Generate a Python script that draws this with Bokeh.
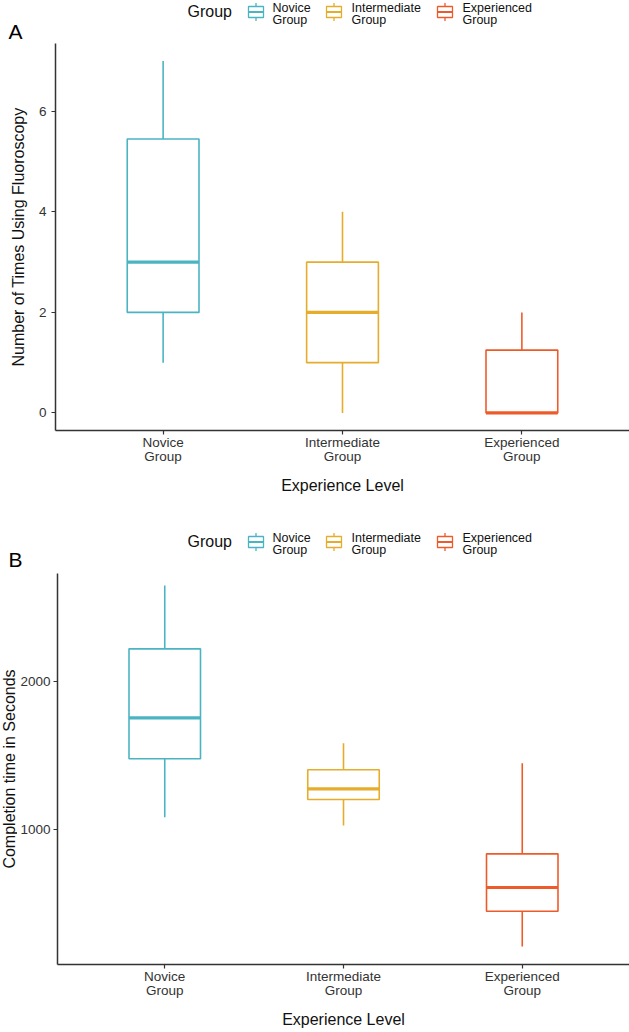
import math
from bokeh.plotting import figure
from bokeh.layouts import column, row
from bokeh.models import Range1d, FixedTicker, ColumnDataSource
from bokeh.core.properties import value
from bokeh.embed import file_html
from bokeh.resources import INLINE

# ---------------- data ----------------
categories = ["Novice\nGroup", "Intermediate\nGroup", "Experienced\nGroup"]
legend_line1 = ["Novice", "Intermediate", "Experienced"]
legend_line2 = ["Group", "Group", "Group"]
colors = ["#4BB4C2", "#E6AC2C", "#EE5B2B"]
positions = [1, 2, 3]

# Panel A: Number of Times Using Fluoroscopy
a_min = [1, 0, 0]
a_q1 = [2, 1, 0]
a_med = [3, 2, 0]
a_q3 = [5.45, 3, 1.25]
a_max = [7, 4, 2]
a_ticks = [0, 2, 4, 6]

# Panel B: Completion time in Seconds
b_min = [1085, 1029, 213]
b_q1 = [1479, 1204, 451]
b_med = [1755, 1276, 611]
b_q3 = [2220, 1405, 838]
b_max = [2647, 1584, 1449]
b_ticks = [1000, 2000]

FONT = "Liberation Sans"
BOX_W = 0.4
AXIS_COL = "#333333"
W = 629


def blank_fig(width, height):
    f = figure(width=width, height=height, x_range=Range1d(0, width),
               y_range=Range1d(height, 0), output_backend="svg",
               toolbar_location=None, min_border=0,
               x_axis_location=None, y_axis_location=None,
               frame_align=False)
    f.grid.visible = False
    f.outline_line_color = None
    f.background_fill_color = "white"
    f.border_fill_color = "white"
    return f


def make_panel(mins, q1s, meds, q3s, maxs, yr, yticks, ylabel, width, height,
               left, bottom, ylab_standoff, ylab_lbl_standoff=5):
    p = figure(width=width, height=height, x_range=Range1d(0.4, 3.6),
               y_range=Range1d(*yr), output_backend="svg",
               toolbar_location=None, min_border_left=left,
               min_border_right=0, min_border_top=0,
               min_border_bottom=bottom, frame_align=False)
    p.xgrid.visible = False
    p.ygrid.visible = False
    p.outline_line_color = None
    p.background_fill_color = "white"
    p.border_fill_color = "white"

    src = ColumnDataSource(dict(
        x=positions, x0=[x - BOX_W / 2 for x in positions],
        x1=[x + BOX_W / 2 for x in positions],
        lo=mins, q1=q1s, med=meds, q3=q3s, hi=maxs, color=colors))

    p.segment(x0="x", y0="q3", x1="x", y1="hi", source=src,
              line_color="color", line_width=1.6)
    p.segment(x0="x", y0="q1", x1="x", y1="lo", source=src,
              line_color="color", line_width=1.6)
    p.vbar(x="x", width=BOX_W, bottom="q1", top="q3", source=src,
           fill_color="white", line_color="color", line_width=1.6)
    p.segment(x0="x0", y0="med", x1="x1", y1="med", source=src,
              line_color="color", line_width=3.2)

    xa = p.xaxis[0]
    ya = p.yaxis[0]
    xa.ticker = FixedTicker(ticks=positions)
    xa.major_label_overrides = {pos: lab for pos, lab in zip(positions, categories)}
    ya.ticker = FixedTicker(ticks=yticks)
    for ax in (xa, ya):
        ax.axis_line_color = AXIS_COL
        ax.axis_line_width = 1.5
        ax.major_tick_line_color = AXIS_COL
        ax.major_tick_line_width = 1.2
        ax.major_tick_out = 4
        ax.major_tick_in = 0
        ax.minor_tick_line_color = None
        ax.major_label_text_font = FONT
        ax.major_label_text_font_size = "13.5px"
        ax.major_label_text_color = "#333333"
        ax.major_label_text_line_height = 0.95
        ax.axis_label_text_font = FONT
        ax.axis_label_text_font_size = "16px"
        ax.axis_label_text_font_style = "normal"
        ax.axis_label_text_color = "#111111"
    xa.axis_label = "Experience Level"
    xa.major_label_standoff = 0
    xa.axis_label_standoff = 10
    ya.major_label_standoff = ylab_lbl_standoff
    if ylabel:
        ya.axis_label = ylabel
        ya.axis_label_standoff = ylab_standoff
    return p


def make_legend(height, title_y, line1_y, line2_y, key_y, tag, tag_y):
    L = blank_fig(W, height)
    key_x = [255.5, 333.5, 444.5]
    lab_x = [272, 351, 462]
    n = len(colors)
    L.text(x=[187], y=[title_y], text=["Group"], text_font=value(FONT),
           text_font_size="16px", text_baseline="middle", text_align="left",
           text_color="#111111")
    L.segment(x0=key_x, y0=[key_y - 9] * n, x1=key_x, y1=[key_y + 9] * n,
              line_color=colors, line_width=1.3)
    L.rect(x=key_x, y=[key_y] * n, width=15, height=11, fill_color="white",
           line_color=colors, line_width=1.3)
    L.segment(x0=[k - 7.5 for k in key_x], y0=[key_y] * n,
              x1=[k + 7.5 for k in key_x], y1=[key_y] * n,
              line_color=colors, line_width=2)
    L.text(x=lab_x, y=[line1_y] * n, text=legend_line1, text_font=value(FONT),
           text_font_size="12.5px", text_baseline="middle", text_align="left",
           text_color="#111111")
    L.text(x=lab_x, y=[line2_y] * n, text=legend_line2, text_font=value(FONT),
           text_font_size="12.5px", text_baseline="middle", text_align="left",
           text_color="#111111")
    L.text(x=[8], y=[tag_y], text=[tag], text_font=value(FONT),
           text_font_size="21px", text_baseline="middle",
           text_align="left", text_color="#000000")
    return L


legA = make_legend(43, 10.5, 7.7, 19.0, 11.5, "A", 30.5)
figA = make_panel(a_min, a_q1, a_med, a_q3, a_max, (-0.35, 7.35), a_ticks,
                  "Number of Times Using Fluoroscopy", W, 455, 55, 68, 9)
legB = make_legend(75, 42.5, 39.7, 51.0, 43.5, "B", 60.5)

YT_W = 17
B_H = 459
figB = make_panel(b_min, b_q1, b_med, b_q3, b_max, (92, 2728), b_ticks,
                  None, W - YT_W, B_H, 56 - YT_W, 68, 0, ylab_lbl_standoff=3)
ytB = blank_fig(YT_W, B_H)
ytB.text(x=[9], y=[(B_H - 68) / 2], text=["Completion time in Seconds"],
         angle=math.pi / 2, text_font=value(FONT), text_font_size="16px",
         text_align="center", text_baseline="middle", text_color="#111111")

layout = column(legA, figA, legB, row(ytB, figB, spacing=0), spacing=0)

open("out.html", "w").write(file_html(layout, INLINE))
